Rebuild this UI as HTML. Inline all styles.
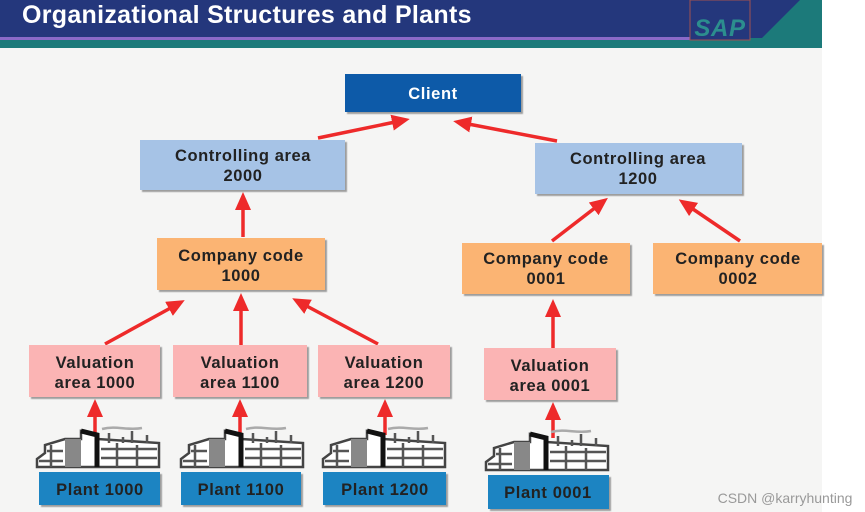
<!DOCTYPE html>
<html><head><meta charset="utf-8"><style>
body{margin:0;width:865px;height:512px;overflow:hidden;background:#fff;font-family:"Liberation Sans",sans-serif}
svg{display:block}
text{font-family:"Liberation Sans",sans-serif;font-weight:bold;font-size:16.5px;letter-spacing:0.6px;fill:#222;text-anchor:middle}
</style></head><body>
<svg width="865" height="512" viewBox="0 0 865 512">
<defs>
<marker id="a" markerWidth="18" markerHeight="16" refX="8" refY="8" orient="auto" markerUnits="userSpaceOnUse" viewBox="0 0 18 16"><path d="M0,0 L18,8 L0,16z" fill="#ee2a2a"/></marker>
<filter id="s"><feDropShadow dx="2" dy="2" stdDeviation="0.6" flood-color="#888" flood-opacity="0.8"/></filter>
<g id="f">
<path d="M0,34 L8,28 L8,20 L28,14 L44,14 L44,6 L60,10 L60,14 L122,18 L122,42 L0,42z" fill="#fff" stroke="#444" stroke-width="2.5"/>
<rect x="28" y="14" width="16" height="28" fill="#888"/>
<path d="M44,6 L60,10 L60,42" fill="none" stroke="#111" stroke-width="5"/>
<g stroke="#555" stroke-width="2.5" fill="none">
<path d="M2,36 H26 M10,26 H26 M64,24 H120 M64,33 H120 M80,18 V42 M100,20 V42 M14,20 V42"/>
<path d="M72,18 V8 M95,18 V6 M110,18 V10 M86,18 V12"/>
</g>
<path d="M65,4 C80,0 90,6 105,3" stroke="#aaa" stroke-width="2.5" fill="none"/>
</g>
</defs>
<rect x="0" y="0" width="822" height="512" fill="#f5f5f4"/>
<rect x="0" y="0" width="822" height="38" fill="#24377c"/>
<rect x="0" y="38" width="822" height="10" fill="#1c7a7a"/>
<rect x="0" y="37" width="690" height="3" fill="#8a6ac8"/>
<rect x="690" y="0" width="60" height="40" fill="#24377c" stroke="#a05050" stroke-width="1"/>
<path d="M760,40 L800,0 L822,0 L822,40z" fill="#1c7a7a"/>
<text x="720" y="36" style="fill:#2c8e8e;font-size:24px;font-style:italic">SAP</text>
<text x="22" y="23" style="fill:#fff;font-size:25px;letter-spacing:0.3px;text-anchor:start">Organizational Structures and Plants</text>

<g stroke="#ee2a2a" stroke-width="3.5" fill="none" marker-end="url(#a)">
<path d="M318,138 L400,121"/><path d="M557,141 L463,123"/>
<path d="M243,237 V202"/><path d="M552,241 L600,204"/><path d="M740,241 L687,205"/>
<path d="M105,344 L176,305"/><path d="M241,345 V303"/><path d="M378,344 L301,303"/>
<path d="M553,348 V309"/>
<path d="M95,435 V409"/><path d="M240,435 V409"/><path d="M385,435 V409"/><path d="M553,438 V412"/>
</g>
<g filter="url(#s)">
<rect x="345" y="74" width="176" height="38" fill="#0a5aa8"/>
<rect x="140" y="140" width="205" height="50" fill="#a6c3e6"/>
<rect x="535" y="143" width="207" height="51" fill="#a6c3e6"/>
<rect x="157" y="238" width="168" height="52" fill="#fbb473"/>
<rect x="462" y="243" width="168" height="51" fill="#fbb473"/>
<rect x="653" y="243" width="169" height="51" fill="#fbb473"/>
<rect x="29" y="345" width="131" height="52" fill="#fbb4b4"/>
<rect x="173" y="345" width="134" height="52" fill="#fbb4b4"/>
<rect x="318" y="345" width="132" height="52" fill="#fbb4b4"/>
<rect x="484" y="348" width="132" height="52" fill="#fbb4b4"/>
<rect x="39" y="472" width="121" height="33" fill="#1a84c2"/>
<rect x="181" y="472" width="120" height="33" fill="#1a84c2"/>
<rect x="323" y="472" width="123" height="33" fill="#1a84c2"/>
<rect x="488" y="475" width="121" height="34" fill="#1a84c2"/>
</g>
<use href="#f" x="37" y="425"/><use href="#f" x="181" y="425"/><use href="#f" x="323" y="425"/><use href="#f" x="486" y="428"/>
<text x="433" y="99" style="fill:#fff">Client</text>
<text x="243" y="161">Controlling area</text><text x="243" y="181">2000</text>
<text x="638" y="164">Controlling area</text><text x="638" y="184">1200</text>
<text x="241" y="261">Company code</text><text x="241" y="281">1000</text>
<text x="546" y="264">Company code</text><text x="546" y="284">0001</text>
<text x="738" y="264">Company code</text><text x="738" y="284">0002</text>
<text x="95" y="368">Valuation</text><text x="95" y="388">area 1000</text>
<text x="240" y="368">Valuation</text><text x="240" y="388">area 1100</text>
<text x="384" y="368">Valuation</text><text x="384" y="388">area 1200</text>
<text x="550" y="371">Valuation</text><text x="550" y="391">area 0001</text>
<text x="100" y="495">Plant 1000</text><text x="241" y="495">Plant 1100</text>
<text x="385" y="495">Plant 1200</text><text x="548" y="498">Plant 0001</text>
<text x="785" y="503" style="font-weight:normal;font-size:14px;letter-spacing:0;fill:#999">CSDN @karryhunting</text>
</svg>
</body></html>
